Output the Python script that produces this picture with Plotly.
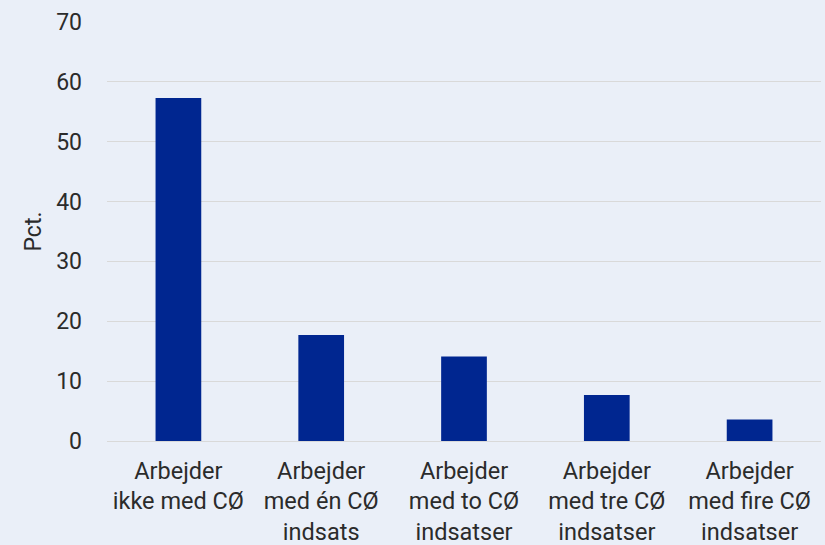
import plotly.graph_objects as go

categories = [
    "Arbejder<br>ikke med CØ",
    "Arbejder<br>med én CØ<br>indsats",
    "Arbejder<br>med to CØ<br>indsatser",
    "Arbejder<br>med tre CØ<br>indsatser",
    "Arbejder<br>med fire CØ<br>indsatser",
]
values = [57.3, 17.7, 14.1, 7.7, 3.6]
y_ticks = [0, 10, 20, 30, 40, 50, 60, 70]

bg = "#EAEFF8"
fig = go.Figure(go.Bar(x=categories, y=values, marker=dict(color="#002690", line=dict(width=0))))
fig.update_layout(
    width=825, height=545,
    paper_bgcolor=bg, plot_bgcolor=bg,
    margin=dict(l=107, r=4, t=22, b=104),
    bargap=0.68,
    font=dict(family="Roboto", size=22, color="#2B2B2B"),
    showlegend=False,
)
fig.update_yaxes(
    range=[0, 70], tickvals=y_ticks, showgrid=True, gridcolor="#D9D9D9", gridwidth=1,
    zeroline=True, zerolinecolor="#D9D9D9", zerolinewidth=1,
    ticks="", ticklabelstandoff=24,
    tickfont=dict(size=23),
    title=dict(text="Pct.", standoff=8, font=dict(size=23)),
)
fig.update_xaxes(showgrid=False, ticks="", showline=False, ticklabelstandoff=13,
                 tickfont=dict(size=23.5), automargin=False)
fig.write_html(
    "out.html",
    config={"displayModeBar": False},
    post_script="document.body.style.margin='0';document.body.style.background='%s';" % bg,
)
